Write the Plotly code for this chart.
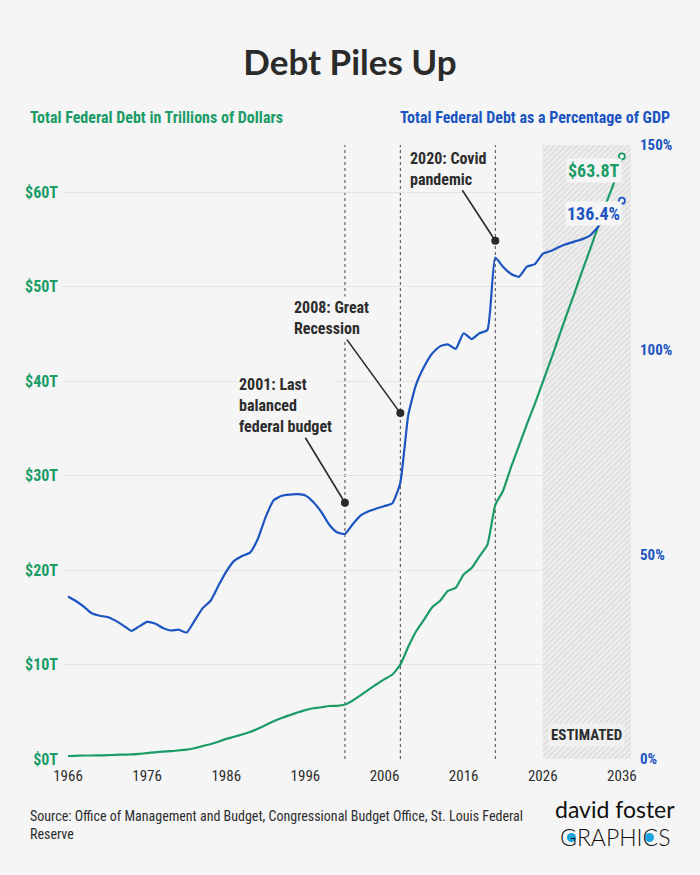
import plotly.graph_objects as go

# ---- data ----
YEARS = list(range(1966, 2037))

DEBT_TRILLIONS = [
    0.32, 0.34, 0.37, 0.37, 0.38, 0.41, 0.44, 0.47, 0.48, 0.54,   # 1966-1975
    0.63, 0.71, 0.78, 0.83, 0.91, 0.99, 1.14, 1.37, 1.56, 1.82,   # 1976-1985
    2.13, 2.35, 2.60, 2.86, 3.21, 3.60, 4.00, 4.35, 4.64, 4.92,   # 1986-1995
    5.18, 5.37, 5.48, 5.61, 5.63, 5.77, 6.20, 6.76, 7.35, 7.91,   # 1996-2005
    8.45, 8.95, 9.99, 11.88, 13.53, 14.76, 16.05, 16.72, 17.79, 18.12,  # 2006-2015
    19.54, 20.21, 21.46, 22.67, 26.90, 28.43, 30.93, 33.17, 35.46, 37.6,  # 2016-2025
    39.9, 42.2, 44.6, 47.0, 49.3, 51.7, 54.0, 56.4, 58.8, 61.0,   # 2026-2035
    63.8,                                                          # 2036
]

DEBT_PCT_GDP = [
    39.7, 38.6, 37.2, 35.6, 35.0, 34.7, 33.8, 32.6, 31.3, 32.4,   # 1966-1975
    33.5, 33.1, 32.0, 31.4, 31.6, 30.9, 33.8, 36.8, 38.6, 42.3,   # 1976-1985
    45.8, 48.4, 49.6, 50.4, 53.8, 59.2, 63.2, 64.3, 64.6, 64.7,   # 1986-1995
    64.4, 62.8, 60.4, 57.3, 55.4, 55.0, 57.4, 59.5, 60.5, 61.2,   # 1996-2005
    61.8, 62.5, 67.5, 84.0, 91.5, 95.8, 99.0, 100.8, 101.3, 100.2,  # 2006-2015
    104.0, 102.6, 104.0, 104.8, 122.5, 120.2, 118.5, 117.8, 120.3, 120.9,  # 2016-2025
    123.4, 124.1, 125.0, 125.8, 126.4, 127.0, 127.9, 130.0, 132.2, 134.3,  # 2026-2035
    136.4,                                                         # 2036
]

ESTIMATE_START = 2026

EVENT_YEARS = [2001, 2008, 2020]
EVENT_LEVELS = [62.6, 84.5, 126.6]          # where the marker dot sits (% axis)
EVENT_LABELS = ["2001: Last<br>balanced<br>federal budget",
                "2008: Great<br>Recession",
                "2020: Covid<br>pandemic"]
EVENT_OFFSETS = [(-59, -97), (-69, -95), (-47, -72)]

X_TICKS = [1966, 1976, 1986, 1996, 2006, 2016, 2026, 2036]
LEFT_TICKS = [0, 10, 20, 30, 40, 50, 60]
LEFT_TICK_TEXT = ["$0T", "$10T", "$20T", "$30T", "$40T", "$50T", "$60T"]
RIGHT_TICKS = [0, 50, 100, 150]
RIGHT_TICK_TEXT = ["0%", "50%", "100%", "150%"]

# ---- style ----
BG = "#f5f5f5"
GREEN = "#1b9c67"
BLUE = "#1c55c1"
DARK = "#2d2d2d"
COND = "Roboto Condensed, Liberation Sans Narrow, DejaVu Sans Condensed, Arial Narrow, sans-serif"

X_RANGE = [1965.37, 2037.15]
LEFT_RANGE = [0, 65]
RIGHT_RANGE = [0, 150]

# plot area in page pixels
PL, PR, PT, PB = 63, 631, 145, 759


def px(x):
    return (x - PL) / (PR - PL)


def py(y):
    return (PB - y) / (PB - PT)


fig = go.Figure()

# hatched "estimated" band
fig.add_trace(go.Scatter(
    x=[ESTIMATE_START, X_RANGE[1], X_RANGE[1], ESTIMATE_START, ESTIMATE_START],
    y=[LEFT_RANGE[0], LEFT_RANGE[0], LEFT_RANGE[1], LEFT_RANGE[1], LEFT_RANGE[0]],
    mode="none", fill="toself", fillcolor="#ececec",
    fillpattern=dict(shape="/", fgcolor="#c6c6c6", bgcolor="#eeeeee", size=4, solidity=0.35),
    hoverinfo="skip", showlegend=False,
))

# debt in trillions (left axis)
fig.add_trace(go.Scatter(
    x=YEARS, y=DEBT_TRILLIONS, mode="lines",
    line=dict(color=GREEN, width=2.2, shape="spline", smoothing=0.5),
    showlegend=False,
))
fig.add_trace(go.Scatter(
    x=[YEARS[-1]], y=[DEBT_TRILLIONS[-1]], mode="markers",
    marker=dict(color=BG, size=6, line=dict(color=GREEN, width=1.8)),
    showlegend=False,
))

# debt as % of GDP (right axis)
fig.add_trace(go.Scatter(
    x=YEARS, y=DEBT_PCT_GDP, mode="lines", yaxis="y2",
    line=dict(color=BLUE, width=2.2, shape="spline", smoothing=0.5),
    showlegend=False,
))
fig.add_trace(go.Scatter(
    x=[YEARS[-1]], y=[DEBT_PCT_GDP[-1]], mode="markers", yaxis="y2",
    marker=dict(color=BG, size=6, line=dict(color=BLUE, width=1.8)),
    showlegend=False,
))

# dotted event lines
for yr in EVENT_YEARS:
    fig.add_shape(type="line", x0=yr, x1=yr, xref="x", y0=0, y1=1, yref="paper",
                  line=dict(color="#444444", width=1, dash="dot"), layer="between")

annotations = []
for yr, lvl, txt, (ax, ay) in zip(EVENT_YEARS, EVENT_LEVELS, EVENT_LABELS, EVENT_OFFSETS):
    annotations.append(dict(
        x=yr, y=lvl, xref="x", yref="y2", text=txt, align="left",
        showarrow=True, ax=ax, ay=ay, arrowhead=6, arrowsize=1.25, arrowwidth=1.6,
        arrowcolor="#2a2a2a", bgcolor=BG, borderpad=1,
        font=dict(family=COND, size=16, color=DARK, weight=700),
    ))

# end labels
annotations.append(dict(
    x=YEARS[-1], y=DEBT_TRILLIONS[-1], xref="x", yref="y",
    text=f"${DEBT_TRILLIONS[-1]}T", showarrow=False, xanchor="right", yanchor="middle",
    xshift=0, yshift=-14, bgcolor=BG, borderpad=1,
    font=dict(family=COND, size=18, color=GREEN, weight=700),
))
annotations.append(dict(
    x=YEARS[-1], y=DEBT_PCT_GDP[-1], xref="x", yref="y2",
    text=f"{DEBT_PCT_GDP[-1]}%", showarrow=False, xanchor="right", yanchor="middle",
    xshift=0, yshift=-13, bgcolor=BG, borderpad=1,
    font=dict(family=COND, size=18, color=BLUE, weight=700),
))

annotations.append(dict(
    x=(ESTIMATE_START + X_RANGE[1]) / 2, y=py(747), xref="x", yref="paper",
    text="ESTIMATED", showarrow=False, bgcolor="#f0f0f0", borderpad=2,
    font=dict(family=COND, size=15, color=DARK, weight=700),
))

# axis headings
annotations.append(dict(
    x=px(28), y=py(118), xref="paper", yref="paper", xanchor="left", yanchor="middle",
    text="Total Federal Debt in Trillions of Dollars", showarrow=False,
    font=dict(family=COND, size=16, color=GREEN, weight=700),
))
annotations.append(dict(
    x=px(672), y=py(118), xref="paper", yref="paper", xanchor="right", yanchor="middle",
    text="Total Federal Debt as a Percentage of GDP", showarrow=False,
    font=dict(family=COND, size=16, color=BLUE, weight=700),
))

# source + logo
annotations.append(dict(
    x=px(28), y=py(825), xref="paper", yref="paper", xanchor="left", yanchor="middle",
    align="left", showarrow=False,
    text="Source: Office of Management and Budget, Congressional Budget Office, St. Louis Federal<br>Reserve",
    font=dict(family=COND, size=14, color=DARK),
))
annotations.append(dict(
    x=px(615), y=py(809), xref="paper", yref="paper", xanchor="center", yanchor="middle",
    text="david foster", showarrow=False,
    font=dict(family="Lato, sans-serif", size=23, color="#111111", weight=400),
))
annotations.append(dict(
    x=px(615), y=py(837), xref="paper", yref="paper", xanchor="center", yanchor="middle",
    text="GRAPHICS", showarrow=False,
    font=dict(family="Lato, sans-serif", size=23, color="#111111", weight=300),
))

fig.update_layout(
    width=700, height=875,
    paper_bgcolor=BG, plot_bgcolor=BG,
    margin=dict(l=PL, r=700 - PR, t=PT, b=875 - PB),
    title=dict(text="Debt Piles Up", x=0.5, xanchor="center", y=1 - 63 / 875, yanchor="middle",
               font=dict(family="Lato, sans-serif", size=35, color="#2b2b2b", weight=700)),
    xaxis=dict(range=X_RANGE, tickvals=X_TICKS, showgrid=False, zeroline=False,
               showline=False, ticks="", ticklabelstandoff=6,
               tickfont=dict(family=COND, size=15, color=DARK)),
    yaxis=dict(range=LEFT_RANGE, tickvals=LEFT_TICKS, ticktext=LEFT_TICK_TEXT,
               showgrid=True, gridcolor="#e4e4e4", gridwidth=1, zeroline=False,
               showline=False, ticks="", ticklabelstandoff=4,
               tickfont=dict(family=COND, size=16, color=GREEN, weight=700)),
    yaxis2=dict(range=RIGHT_RANGE, tickvals=RIGHT_TICKS, ticktext=RIGHT_TICK_TEXT,
                overlaying="y", side="right", showgrid=False, zeroline=False,
                showline=False, ticks="", ticklabelstandoff=8,
                tickfont=dict(family=COND, size=15, color=BLUE, weight=700)),
    annotations=annotations,
    shapes=list(fig.layout.shapes) + [
        # blue dots inside the logo's G and C
        dict(type="circle", xref="paper", yref="paper",
             x0=px(567), x1=px(576), y0=py(842), y1=py(833),
             fillcolor="#1aa3dc", line=dict(width=0), layer="above"),
        dict(type="circle", xref="paper", yref="paper",
             x0=px(645), x1=px(654), y0=py(842), y1=py(833),
             fillcolor="#1aa3dc", line=dict(width=0), layer="above"),
    ],
    showlegend=False,
)

# drop the default page margin so the 700x875 figure fills the window
fig.write_html("out.html", config={"displayModeBar": False},
               post_script="document.body.style.margin='0';"
                           "document.body.style.background='#f5f5f5';")
